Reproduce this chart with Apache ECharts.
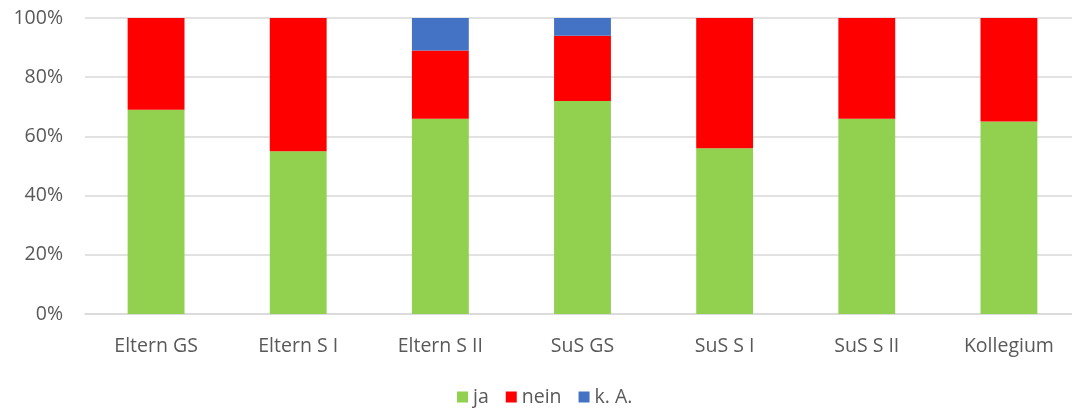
<!DOCTYPE html>
<html><head><meta charset="utf-8">
<script src="https://cdn.jsdelivr.net/npm/echarts@6/dist/echarts.min.js"></script>
<style>html,body{margin:0;padding:0;background:#fff}#c{width:1072px;height:412px}</style>
</head><body><div id="c"></div>
<script>
const categories = ["Eltern GS","Eltern S I","Eltern S II","SuS GS","SuS S I","SuS S II","Kollegium"];
const ja   = [69,55,66,72,56,66,65];
const nein = [31,45,23,22,44,34,35];
const ka   = [0,0,11,6,0,0,0];
const yTicks = [0,20,40,60,80,100];
const chart = echarts.init(document.getElementById('c'));
const font = "'Open Sans', 'Liberation Sans', sans-serif";
const mk = (name, data, color) => ({name, type:'bar', stack:'s', data, barWidth:'40%', itemStyle:{color}, emphasis:{disabled:true}});
chart.setOption({
  animation:false,
  textStyle:{fontFamily:font},
  grid:{left:85, width:995, top:18, bottom:98, outerBoundsMode:'none', containLabel:false},
  legend:{bottom:0, left:452, itemWidth:11, itemHeight:11, itemGap:17, icon:'rect',
    textStyle:{fontSize:19.5, color:'#595959', fontFamily:font}, data:['ja','nein','k. A.']},
  xAxis:{type:'category', data:categories, axisTick:{show:false},
    axisLine:{lineStyle:{color:'#d9d9d9', width:1.5}},
    axisLabel:{fontSize:19.5, color:'#595959', margin:22, fontFamily:font}},
  yAxis:{type:'value', min:0, max:100, interval:20, axisLine:{show:false}, axisTick:{show:false},
    splitLine:{lineStyle:{color:'#d9d9d9', width:1.5}},
    axisLabel:{fontSize:19.5, color:'#595959', margin:22, fontFamily:font, formatter:v=>yTicks.includes(v)?v+'%':''}},
  series:[mk('ja',ja,'#92d050'), mk('nein',nein,'#ff0000'), mk('k. A.',ka,'#4472c4')]
});
</script></body></html>
